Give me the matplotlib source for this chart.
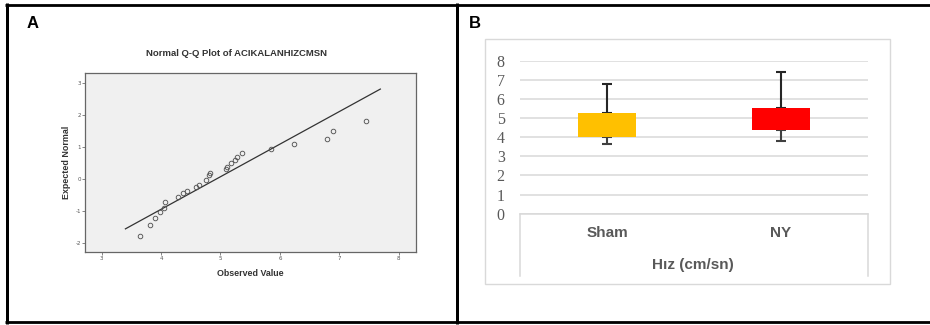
import matplotlib
matplotlib.use("Agg")
import matplotlib.pyplot as plt
import matplotlib.transforms as mtransforms
from matplotlib.lines import Line2D
from matplotlib.patches import Rectangle

# ---------------- data ----------------
# Panel A: Normal Q-Q plot
qq_observed = [3.645, 3.81, 3.90, 3.99, 4.05, 4.065, 4.28, 4.37, 4.44, 4.59, 4.64,
               4.75, 4.80, 4.83, 5.09, 5.11, 5.17, 5.25, 5.28, 5.36, 5.85, 6.24,
               6.80, 6.89, 7.45]
qq_expected = [-1.78, -1.44, -1.22, -1.03, -0.90, -0.70, -0.55, -0.42, -0.36, -0.26,
               -0.18, -0.02, 0.12, 0.20, 0.31, 0.39, 0.49, 0.58, 0.68, 0.81, 0.93,
               1.08, 1.25, 1.48, 1.81]
ref_line_x = [3.40, 7.69]
ref_line_y = [-1.55, 2.80]
qq_xticks = [3, 4, 5, 6, 7, 8]
qq_yticks = [-2, -1, 0, 1, 2, 3]

# Panel B: box-style bars
groups = ["Sham", "NY"]
box_min = [3.64, 3.82]
box_q1 = [4.03, 4.39]
box_q3 = [5.25, 5.53]
box_max = [6.78, 7.43]
box_colors = ["#FFC000", "#FF0000"]
b_yticks = [0, 1, 2, 3, 4, 5, 6, 7, 8]

# ---------------- figure ----------------
W, H = 930, 325
fig = plt.figure(figsize=(W / 100, H / 100), dpi=100)
fig.patch.set_facecolor("white")

def fx(x):
    return x / W

def fy(y):
    return 1 - y / H

def fline(x0, y0, x1, y1, lw_px, color="black"):
    fig.add_artist(Line2D([fx(x0), fx(x1)], [fy(y0), fy(y1)], transform=fig.transFigure,
                          color=color, lw=lw_px * 0.72, solid_capstyle="butt"))

# frame lines
fline(5, 4.5, 930, 4.5, 2.8)
fline(6.5, 3.2, 6.5, 323.5, 3)
fline(456.5, 3.2, 456.5, 323.5, 3)
fline(5, 322, 930, 322, 2.8)

# panel letters
fig.text(fx(27), fy(24), "A", fontsize=12, fontweight="bold", family="Liberation Sans",
         ha="left", va="center")
fig.text(fx(469), fy(24), "B", fontsize=12, fontweight="bold", family="Liberation Sans",
         ha="left", va="center")

# ---------------- Panel A ----------------
axA = fig.add_axes([fx(85), fy(252), fx(416) - fx(85), fy(73) - fy(252)])
axA.set_facecolor("#F0F0F0")
axA.plot(ref_line_x, ref_line_y, color="#333333", lw=0.9)
axA.plot(qq_observed, qq_expected, linestyle="none", marker="o", markersize=3.3,
         markerfacecolor="none", markeredgecolor="#555555", markeredgewidth=0.65)
axA.set_xlim(2.72, 8.29)
axA.set_ylim(-2.27, 3.30)
axA.set_xticks(qq_xticks)
axA.set_yticks(qq_yticks)
axA.set_xticklabels([str(t) for t in qq_xticks])
axA.set_yticklabels([str(t) for t in qq_yticks])
axA.tick_params(labelsize=4, colors="#555555", length=2, width=0.5, pad=1)
for s in axA.spines.values():
    s.set_color("#666666")
    s.set_linewidth(0.9)
axA.set_xlabel("Observed Value", fontsize=6.4, fontweight="bold", color="#333333",
               family="Liberation Sans", labelpad=6)
axA.set_ylabel("Expected Normal", fontsize=6.4, fontweight="bold", color="#333333",
               family="Liberation Sans", labelpad=3)
fig.text(fx(236), fy(53), "Normal Q-Q Plot of ACIKALANHIZCMSN", fontsize=6.8,
         fontweight="bold", color="#333333", family="Liberation Sans",
         ha="center", va="center")

# ---------------- Panel B ----------------
fig.add_artist(Rectangle((fx(485), fy(284)), fx(890) - fx(485), fy(39.3) - fy(284),
                         transform=fig.transFigure, facecolor="white",
                         edgecolor="#D9D9D9", lw=1.0, zorder=0))

axB = fig.add_axes([fx(520), fy(213.7), fx(868) - fx(520), fy(60.7) - fy(213.7)])
axB.set_facecolor("none")
axB.set_xlim(-0.5, 1.5)
axB.set_ylim(0, 8)
for s in axB.spines.values():
    s.set_visible(False)
axB.set_yticks(b_yticks)
axB.set_yticklabels([str(t) for t in b_yticks], family="Liberation Serif",
                    fontsize=11.5, color="#595959")
axB.tick_params(axis="y", length=0, pad=11)
axB.set_xticks([])
axB.grid(axis="y", color="#D9D9D9", lw=1.1)
axB.set_axisbelow(True)

xpos = list(range(len(groups)))
heights = [q3 - q1 for q1, q3 in zip(box_q1, box_q3)]
for i in xpos:
    axB.errorbar([i], [box_q3[i]], yerr=[[0], [box_max[i] - box_q3[i]]],
                 fmt="none", ecolor="#262626", elinewidth=1.5, capsize=3.6,
                 capthick=1.5, zorder=2)
    axB.errorbar([i], [box_q1[i]], yerr=[[box_q1[i] - box_min[i]], [0]],
                 fmt="none", ecolor="#404040", elinewidth=1.5, capsize=3.6,
                 capthick=1.5, zorder=2)
axB.bar(xpos, heights, bottom=box_q1, width=0.335, color=box_colors, zorder=3)

# category axis box (Excel multi-level style)
lb = -0.405
axB.plot([0, 1], [0, 0], transform=axB.transAxes, color="#D9D9D9", lw=1.1, clip_on=False)
axB.plot([0, 0], [0, lb], transform=axB.transAxes, color="#D9D9D9", lw=1.1, clip_on=False)
axB.plot([1, 1], [0, lb], transform=axB.transAxes, color="#D9D9D9", lw=1.1, clip_on=False)

cat_tr = mtransforms.blended_transform_factory(axB.transData, fig.transFigure)
for i, g in enumerate(groups):
    axB.text(i, fy(233), g, transform=cat_tr, fontsize=11,
             fontweight="bold", color="#595959", family="Liberation Sans",
             ha="center", va="center")

fig.text(fx(693), fy(265), "Hız (cm/sn)", fontsize=11, fontweight="bold",
         color="#595959", family="Liberation Sans", ha="center", va="center")

fig.savefig("out.png", dpi=100)
